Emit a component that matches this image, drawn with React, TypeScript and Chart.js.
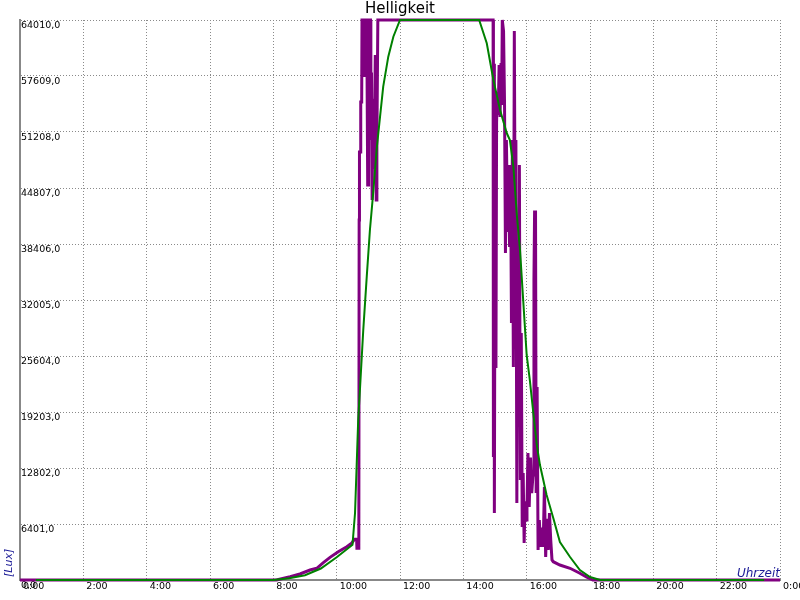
import React, { useEffect, useRef } from 'react';
import { Chart, registerables } from 'chart.js';

Chart.register(...registerables);

const TITLE = 'Helligkeit';
const X_TITLE = 'Uhrzeit';
const Y_TITLE = '[Lux]';

const Y_MAX = 64010;
const Y_STEP = 6401;
const X_MAX = 24;
const X_STEP = 2;

// Measured brightness (purple), hours of day and lux
const purpleHours = [
  0, 8.1, 8.16, 8.53, 8.84, 9.16, 9.37, 9.58, 9.79, 10.05, 10.32, 10.47, 10.56, 10.63, 10.64, 10.7,
  10.71, 10.72, 10.75, 10.76, 10.79, 10.8, 10.86, 10.87, 10.89, 10.9, 10.95, 10.96, 10.98, 11.0,
  11.01, 11.03, 11.07, 11.08, 11.1, 11.12, 11.15, 11.18, 11.22, 11.25, 11.27, 11.3,
  14.93, 14.94, 14.95, 14.97, 14.98, 15.0, 15.03, 15.05, 15.07, 15.1, 15.13, 15.16, 15.19, 15.21,
  15.23, 15.27, 15.3, 15.33, 15.36, 15.4, 15.43, 15.46, 15.49, 15.52, 15.55, 15.58, 15.61, 15.64,
  15.66, 15.69, 15.72, 15.75, 15.77, 15.8, 15.83, 15.86, 15.89, 15.92, 15.95, 15.98, 16.01, 16.04,
  16.08, 16.12, 16.16, 16.2, 16.23, 16.25, 16.28, 16.3, 16.33, 16.36, 16.4, 16.44, 16.48, 16.52,
  16.56, 16.6, 16.64, 16.68, 16.72, 16.76, 16.8, 16.84, 17.05, 17.37, 17.68, 17.9, 18.09, 24,
];
const purpleLux = [
  0, 0, 60, 380, 690, 1140, 1340, 1980, 2590, 3230, 3810, 4190, 4650, 4650, 3620, 3620,
  41150, 48920, 48920, 54640, 54640, 64010, 64010, 57490, 57490, 64010, 64010, 57490, 45150, 45150,
  51780, 64010, 64010, 50290, 58000, 43430, 55000, 47000, 60000, 43430, 50000, 64010,
  64010, 64010, 14060, 59000, 7660, 40000, 24230, 52240, 55780, 53150, 58870, 52920, 59100, 54290,
  64010, 62750, 54860, 37380, 50290, 39780, 47430, 38060, 47430, 29370, 50290, 24350, 62750, 36920,
  50290, 8800, 37380, 20570, 47430, 11430, 28230, 6060, 12230, 4230, 9000, 6860, 8340, 14520,
  8340, 14000, 9940, 12000, 34290, 42060, 42060, 9940, 22060, 3430, 6860, 3770, 6000, 3770,
  10630, 2630, 7000, 3430, 7660, 4570, 2300, 2090, 1710, 1340, 770, 310, 0, 0,
];

// Smoothed brightness (green)
const greenHours = [
  0.5, 8.0, 8.5, 9.0, 9.5, 10.0, 10.5, 10.58, 10.63, 10.68, 10.74, 10.84, 10.95, 11.05, 11.16,
  11.26, 11.37, 11.47, 11.63, 11.79, 12.0, 14.5, 14.74, 14.95, 15.16, 15.37, 15.47, 15.58, 15.69,
  15.79, 15.89, 16.0, 16.1, 16.21, 16.32, 16.42, 16.63, 16.84, 17.05, 17.37, 17.68, 18.0, 18.32, 23.5,
];
const greenLux = [
  0, 0, 190, 540, 1310, 2600, 4030, 7660, 12950, 18290, 22090, 28580, 34670, 40000, 44500,
  49150, 52960, 56390, 59820, 62100, 64010, 64010, 61350, 57150, 53720, 51090, 50290, 47240, 41720,
  37720, 32000, 25720, 22860, 19090, 15430, 13140, 9720, 7090, 4340, 2630, 1140, 340, 0, 0,
];

const FONT = 'DejaVu Sans';
const TITLE_BLUE = '#1a1a96';

const toPoints = (xs: number[], ys: number[]) => xs.map((x, i) => ({ x, y: ys[i] }));

const axisTitles = {
  id: 'axisTitles',
  afterDraw(chart: any) {
    const { ctx, chartArea } = chart;
    ctx.save();
    ctx.fillStyle = TITLE_BLUE;
    ctx.font = `italic 12px "${FONT}"`;
    ctx.textAlign = 'right';
    ctx.textBaseline = 'alphabetic';
    ctx.fillText(X_TITLE, chartArea.right, chartArea.bottom - 3);
    ctx.translate(chartArea.left - 8, chartArea.bottom - 3);
    ctx.rotate(-Math.PI / 2);
    ctx.textAlign = 'left';
    ctx.font = `italic 11px "${FONT}"`;
    ctx.fillText(Y_TITLE, 0, 0);
    ctx.restore();
  },
};

export default function App() {
  const ref = useRef<HTMLCanvasElement | null>(null);

  useEffect(() => {
    if (!ref.current) return;
    const chart = new Chart(ref.current, {
      type: 'line',
      data: {
        datasets: [
          {
            data: toPoints(greenHours, greenLux),
            borderColor: '#008000',
            borderWidth: 2,
            pointRadius: 0,
            fill: false,
            tension: 0,
            clip: 6,
          },
          {
            data: toPoints(purpleHours, purpleLux),
            borderColor: '#800080',
            borderWidth: 3,
            pointRadius: 0,
            fill: false,
            tension: 0,
            clip: 6,
          },
        ],
      },
      options: {
        animation: false,
        responsive: false,
        maintainAspectRatio: false,
        layout: { padding: { left: 20, right: 20, top: 0, bottom: 0 } },
        plugins: {
          legend: { display: false },
          tooltip: { enabled: false },
          title: {
            display: true,
            text: TITLE,
            color: '#000',
            font: { family: FONT, size: 15, weight: 'normal' },
            padding: { top: 0, bottom: 2 },
          },
        },
        scales: {
          x: {
            type: 'linear',
            min: 0,
            max: X_MAX,
            ticks: {
              stepSize: X_STEP,
              autoSkip: false,
              maxRotation: 0,
              align: 'start',
              labelOffset: 3,
              padding: 1,
              color: '#000',
              font: { family: FONT, size: 9.5 },
              callback: (v: any) => `${Number(v) % 24}:00`,
            },
            grid: { color: '#8a8a8a', lineWidth: 1, drawTicks: false },
            border: { display: true, color: '#888888', width: 2, dash: [1, 2] },
            afterFit: (s: any) => {
              s.height = 20;
              s.paddingLeft = 0;
              s.paddingRight = 0;
            },
          },
          y: {
            type: 'linear',
            min: 0,
            max: Y_MAX,
            ticks: {
              stepSize: Y_STEP,
              mirror: true,
              padding: 1,
              labelOffset: 6,
              color: '#000',
              font: { family: FONT, size: 9.5 },
              callback: (v: any) => Number(v).toFixed(1).replace('.', ','),
            },
            grid: { color: '#8a8a8a', lineWidth: 1, drawTicks: false },
            border: { display: true, color: '#888888', width: 2, dash: [1, 2] },
            afterFit: (s: any) => {
              s.width = 0;
              s.paddingTop = 0;
              s.paddingBottom = 0;
            },
          },
        },
      },
      plugins: [axisTitles],
    } as any);
    return () => chart.destroy();
  }, []);

  return (
    <div style={{ position: 'absolute', left: 0, top: 0, width: 800, height: 600, background: '#fff' }}>
      <canvas ref={ref} width={800} height={600} />
    </div>
  );
}
